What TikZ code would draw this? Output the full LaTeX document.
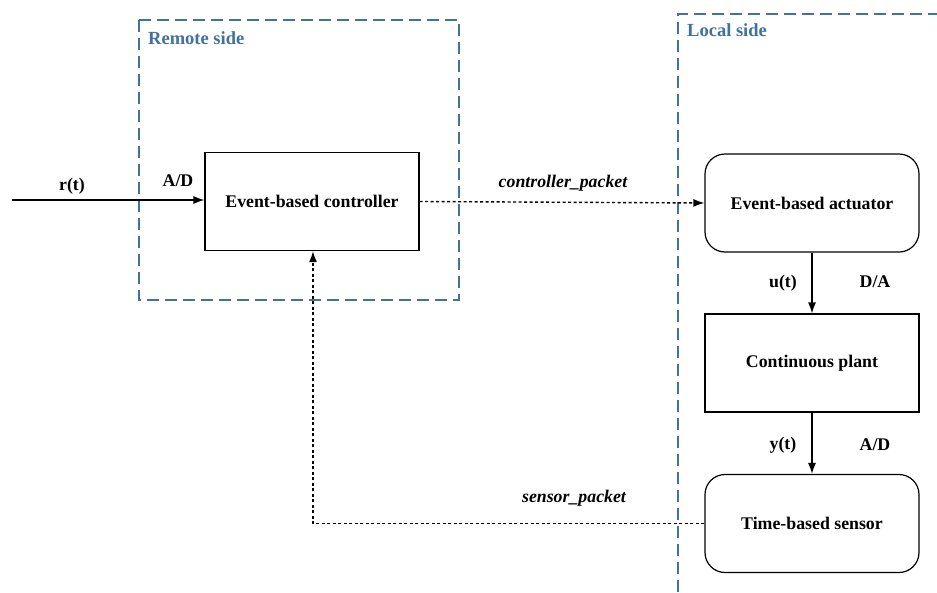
\documentclass[tikz,border=0pt]{standalone}
\usepackage{fontspec}
\setmainfont{Liberation Serif}
\usepackage{tikz}
\usetikzlibrary{arrows.meta}
\definecolor{sideblue}{RGB}{65,113,160}

\tikzset{
  block/.style={draw=black,line width=1.2pt,minimum width=214pt,minimum height=98pt,
    font=\fontsize{17.8}{20}\selectfont\bfseries,inner sep=0pt},
  roundblock/.style={block,rounded corners=20pt},
  sig/.style={font=\fontsize{17.8}{20}\selectfont\bfseries,inner sep=0pt},
  pkt/.style={font=\fontsize{17.8}{20}\selectfont\bfseries\itshape,inner sep=0pt},
  sidebox/.style={draw=sideblue,line width=1.5pt,dash pattern=on 12pt off 6pt},
  sidelabel/.style={font=\fontsize{18.5}{20}\selectfont\bfseries,text=sideblue,inner sep=0pt,anchor=west},
  flow/.style={line width=1.3pt,-{Latex[length=11pt,width=8pt]}},
  packetflow/.style={line width=1.4pt,dash pattern=on 3pt off 2.5pt,-{Latex[length=11pt,width=8pt]}}
}

\begin{document}
\begin{tikzpicture}[x=1pt,y=-1pt]
\useasboundingbox (0,0) rectangle (937,592);
% remote and local regions
\draw[sidebox] (139,20) rectangle (459,300);
\draw[sidebox] (678,592) -- (678,14) -- (937,14);
\node[sidelabel] (remote) at (148,38) {Remote side};
\node[sidelabel] (local) at (687,30) {Local side};
% blocks
\node[block] (ctrl) at (312,201.5) {Event-based controller};
\node[roundblock] (act) at (812,203) {Event-based actuator};
\node[block] (plant) at (812,363) {Continuous plant};
\node[roundblock] (sens) at (812,523.5) {Time-based sensor};
% input
\coordinate (in) at (12,200);
\draw[flow] (in) -- (in -| ctrl.west);
\node[sig] (rt) at (72,186) {r(t)};
\node[sig] (ad1) at (178,181) {A/D};
% network packets
\draw[packetflow] (ctrl.east) -- (act.west);
\node[pkt] (cpkt) at (563,183) {controller\_packet};
\coordinate (corner) at (313,523.5);
\draw[packetflow] (sens.west) -- (corner) -- (ctrl.south -| corner);
\node[pkt] (spkt) at (574,498) {sensor\_packet};
% local loop
\draw[flow] (act.south) -- (plant.north);
\node[sig] (ut) at (783,283) {u(t)};
\node[sig] (da) at (875,282) {D/A};
\draw[flow] (plant.south) -- (sens.north);
\node[sig] (yt) at (783,445) {y(t)};
\node[sig] (ad2) at (875,445) {A/D};
\end{tikzpicture}
\end{document}
